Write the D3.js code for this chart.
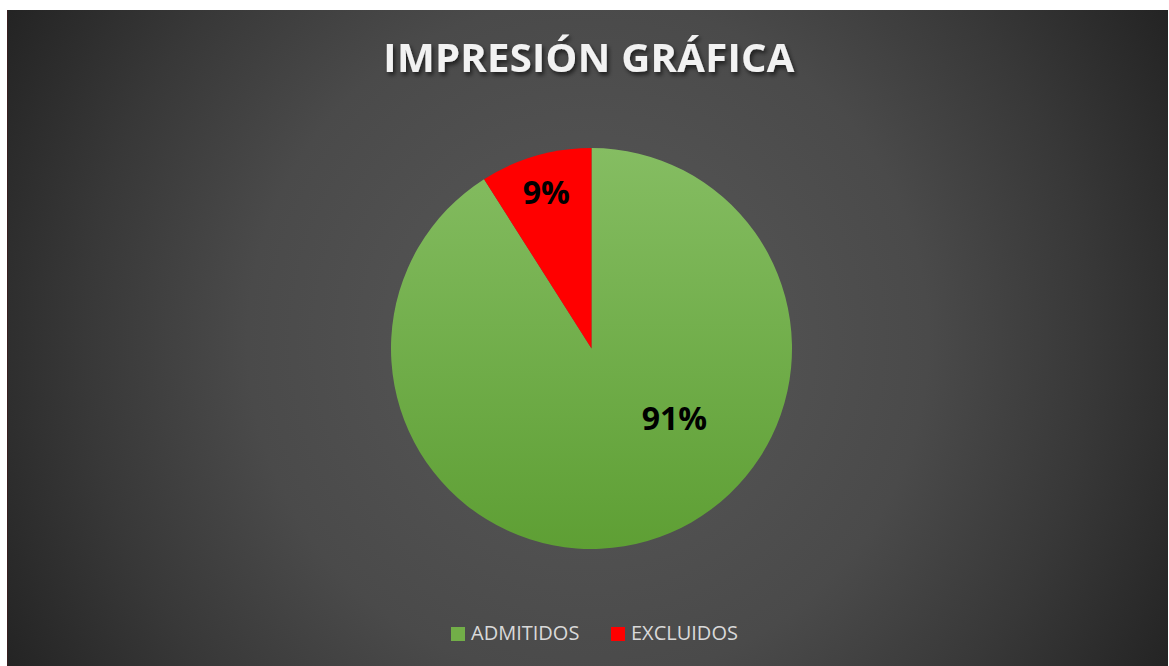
<!DOCTYPE html>
<html>
<head>
<meta charset="utf-8">
<script src="https://cdn.jsdelivr.net/npm/d3@7"></script>
<style>
  html, body { margin: 0; padding: 0; background: #ffffff; }
  svg { display: block; }
</style>
</head>
<body>
<svg id="chart" width="1169" height="666"></svg>
<script>
const title = "IMPRESIÓN GRÁFICA";
const categories = ["ADMITIDOS", "EXCLUIDOS"];
const values = [91, 9];
const labels = ["91%", "9%"];

const W = 1169, H = 666;
const svg = d3.select("#chart");
const defs = svg.append("defs");

// background radial gradient
const bg = defs.append("radialGradient").attr("id", "bg")
  .attr("gradientUnits", "userSpaceOnUse")
  .attr("cx", 588).attr("cy", 340).attr("r", 680);
[[0, "#575757"], [0.3, "#505050"], [0.5, "#4a4a4a"], [0.74, "#383838"], [1, "#222222"]]
  .forEach(([o, c]) => bg.append("stop").attr("offset", o).attr("stop-color", c));

const cx = 591.5, cy = 348.5, R = 200.5;

const gg = defs.append("linearGradient").attr("id", "green")
  .attr("gradientUnits", "userSpaceOnUse")
  .attr("x1", 0).attr("y1", -R).attr("x2", 0).attr("y2", R);
gg.append("stop").attr("offset", 0).attr("stop-color", "#85bd62");
gg.append("stop").attr("offset", 1).attr("stop-color", "#5e9f34");

const shadow = defs.append("filter").attr("id", "tshadow")
  .attr("x", "-10%").attr("y", "-30%").attr("width", "120%").attr("height", "160%");
shadow.append("feDropShadow").attr("dx", 2).attr("dy", 3).attr("stdDeviation", 2)
  .attr("flood-color", "#000").attr("flood-opacity", 0.6);

svg.append("rect").attr("x", 7).attr("y", 10).attr("width", W - 8).attr("height", H - 10)
  .attr("fill", "url(#bg)");
svg.append("rect").attr("x", 7).attr("y", 10).attr("width", 1).attr("height", H - 10)
  .attr("fill", "#3a1f1f");

// title
svg.append("text")
  .attr("x", 589).attr("y", 72)
  .attr("text-anchor", "middle")
  .attr("font-family", "'Open Sans', sans-serif")
  .attr("font-weight", 700)
  .attr("font-size", 40)
  .attr("letter-spacing", 0.3)
  .attr("fill", "#f2f2f2")
  .attr("filter", "url(#tshadow)")
  .text(title);

// pie
const colors = d3.scaleOrdinal().domain(categories).range(["url(#green)", "#ff0000"]);
const legendColors = d3.scaleOrdinal().domain(categories).range(["#72ae48", "#ff0000"]);
const pie = d3.pie().sort(null).value(d => d.v);
const data = categories.map((c, i) => ({ c, v: values[i], l: labels[i] }));
const arcs = pie(data);
const arc = d3.arc().innerRadius(0).outerRadius(R);
const g = svg.append("g").attr("transform", `translate(${cx},${cy})`);
g.selectAll("path").data(arcs).enter().append("path")
  .attr("d", arc)
  .attr("fill", d => colors(d.data.c));

// label placement (Excel best-fit style): radius fraction and angle shift
const labelRad = [0.54, 0.81];
const labelAngleShift = [-0.59, 0];
g.selectAll("text.lbl").data(arcs).enter().append("text")
  .attr("class", "lbl")
  .attr("transform", (d, i) => {
    const a = (d.startAngle + d.endAngle) / 2 + labelAngleShift[i];
    const r = R * labelRad[i];
    return `translate(${r * Math.sin(a)},${-r * Math.cos(a)})`;
  })
  .attr("text-anchor", "middle")
  .attr("dy", "0.36em")
  .attr("font-family", "'Open Sans', sans-serif")
  .attr("font-weight", 700)
  .attr("font-size", 32)
  .attr("fill", "#000")
  .text(d => d.data.l);

// legend
const legend = svg.append("g").attr("transform", "translate(451,627)");
const offs = [0, 160];
categories.forEach((c, i) => {
  const lg = legend.append("g").attr("transform", `translate(${offs[i]},0)`);
  lg.append("rect").attr("width", 14).attr("height", 14).attr("fill", legendColors(c));
  lg.append("text").attr("x", 20).attr("y", 13)
    .attr("font-family", "'Open Sans', sans-serif")
    .attr("font-size", 20)
    .attr("fill", "#d9d9d9")
    .text(c);
});
</script>
</body>
</html>
